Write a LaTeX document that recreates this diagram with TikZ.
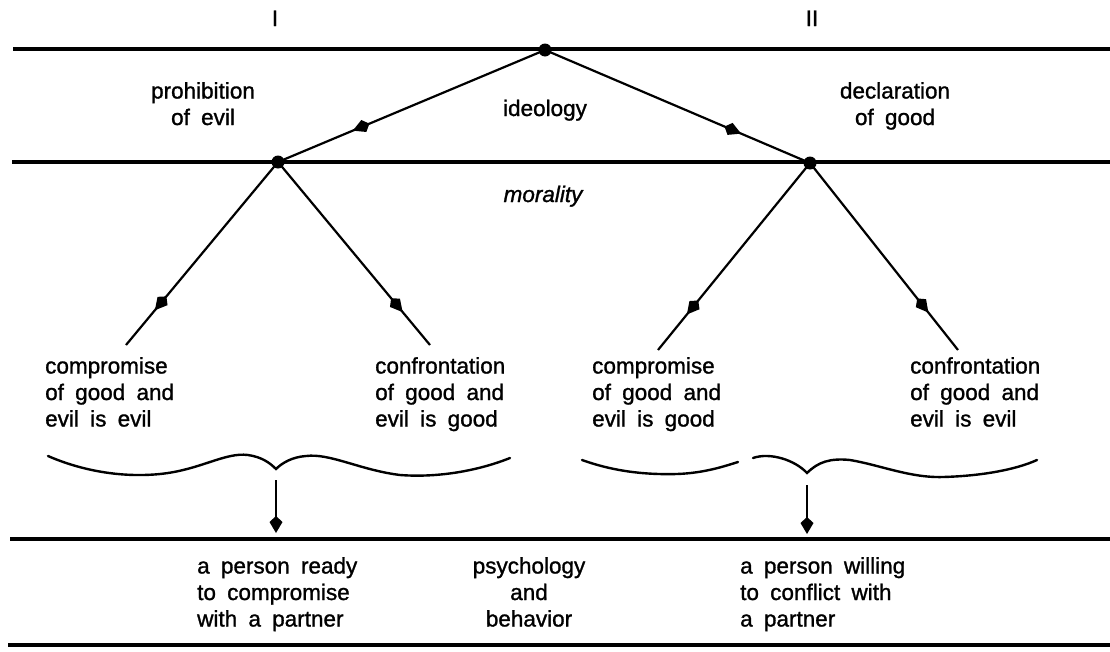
\documentclass[tikz,border=0pt]{standalone}
\usepackage{fontspec}
\setmainfont{Liberation Sans}[WordSpace=1.8,FakeBold=1.2]
\usetikzlibrary{arrows.meta,decorations.markings}
\tikzset{
  hline/.style={line width=3.2pt},
  conn/.style={line width=2.2pt},
  blob/.style={circle,fill,inner sep=0pt,minimum size=13pt},
  lab/.style={inner sep=0pt,font=\fontsize{22.5}{26.5}\selectfont},
  blk/.style={lab,align=left,anchor=north west},
  cblk/.style={lab,align=center,anchor=north},
  kite/.style={-{Kite[length=17pt,width=13pt,inset=6pt]}},
  midarrow/.style={postaction={decorate},decoration={markings,
     mark=at position #1 with {\arrow{Kite[length=18pt,width=13pt,inset=6pt]}}}},
  brace/.style={line width=2.4pt,line cap=round}
}
\begin{document}
\begin{tikzpicture}[x=1pt,y=-1pt]
\useasboundingbox (0,0) rectangle (1110,651);
% horizontal lines
\coordinate (h1l) at (13,49);  \coordinate (h1r) at (1110,49);
\coordinate (h2l) at (12,162); \coordinate (h2r) at (1110,162);
\coordinate (h3l) at (10,539); \coordinate (h3r) at (1110,539);
\coordinate (h4l) at (8,645);  \coordinate (h4r) at (1110,645);
\draw[hline] (h1l) -- (h1r);
\draw[hline] (h2l) -- (h2r);
\draw[hline] (h3l) -- (h3r);
\draw[hline] (h4l) -- (h4r);
% junction dots
\node[blob] (A) at (545,50) {};
\node[blob] (B) at (278,162) {};
\node[blob] (C) at (810,163) {};
% free ends
\coordinate (bl) at (126,345);
\coordinate (br) at (430,345);
\coordinate (cl) at (658,350);
\coordinate (cr) at (958,350);
% connectors
\draw[conn,midarrow=0.72] (A.center) -- (B.center);
\draw[conn,midarrow=0.74] (A.center) -- (C.center);
\draw[conn,midarrow=0.81] (B.center) -- (bl);
\draw[conn,midarrow=0.82] (B.center) -- (br);
\draw[conn,midarrow=0.81] (C.center) -- (cl);
\draw[conn,midarrow=0.80] (C.center) -- (cr);
% column labels
\node[lab,anchor=base] (cI) at (275,26) {I};
\node[lab,anchor=base] (cII) at (812,26) {II};
% level labels
\node[cblk] (proh) at (203,82) {prohibition\\of evil};
\node[lab,anchor=base] (ideo) at (545,116) {ideology};
\node[cblk] (decl) at (895,82) {declaration\\of good};
\node[lab,anchor=base,font=\fontsize{22.5}{26.5}\selectfont\itshape] (mor) at (543,202) {morality};
% middle blocks
\node[blk] (t1) at (45,357) {compromise\\of good and\\evil is evil};
\node[blk] (t2) at (375,357) {confrontation\\of good and\\evil is good};
\node[blk] (t3) at (592,357) {compromise\\of good and\\evil is good};
\node[blk] (t4) at (910,357) {confrontation\\of good and\\evil is evil};
% braces
\draw[brace] (48,456) .. controls (80,470) and (120,478) .. (160,474)
  .. controls (200,470) and (225,452) .. (248,455)
  .. controls (262,457) and (270,463) .. (276,469)
  coordinate (b1)
  .. controls (282,463) and (292,457) .. (306,456)
  .. controls (330,453) and (360,470) .. (400,475)
  .. controls (440,478) and (480,470) .. (510,458);
\draw[brace] (582,460) .. controls (610,470) and (640,475) .. (677,474)
  .. controls (705,473) and (725,466) .. (738,462);
\draw[brace] (753,458) .. controls (770,452) and (795,460) .. (807,473)
  coordinate (b2)
  .. controls (818,462) and (830,458) .. (850,460)
  .. controls (880,465) and (910,478) .. (943,477)
  .. controls (980,476) and (1015,470) .. (1037,460);
% vertical arrows
\coordinate (v1t) at (276,480); \coordinate (v1b) at (276,533);
\coordinate (v2t) at (807,485); \coordinate (v2b) at (807,534);
\draw[conn,kite] (v1t) -- (v1b);
\draw[conn,kite] (v2t) -- (v2b);
% bottom blocks
\node[blk] (p1) at (197,557) {a person ready\\to compromise\\with a partner};
\node[cblk] (psy) at (529,557) {psychology\\and\\behavior};
\node[blk] (p2) at (740,557) {a person willing\\to conflict with\\a partner};
\end{tikzpicture}
\end{document}
